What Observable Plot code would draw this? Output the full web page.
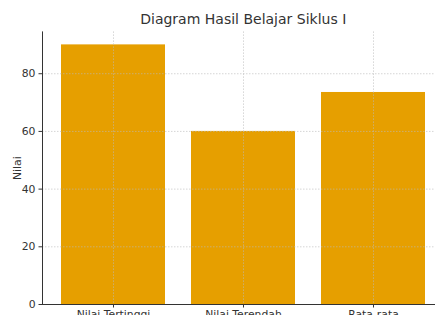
<!DOCTYPE html>
<html>
<head>
<meta charset="utf-8">
<script src="https://cdn.jsdelivr.net/npm/d3@7"></script>
<script src="https://cdn.jsdelivr.net/npm/@observablehq/plot@0.6"></script>
<style>
  html, body { margin: 0; padding: 0; background: #fff; overflow: hidden; }
</style>
</head>
<body>
<div id="chart"></div>
<script>
const title = "Diagram Hasil Belajar Siklus I";
const categories = ["Nilai Tertinggi", "Nilai Terendah", "Rata-rata"];
const values = [90, 60, 73.5];
const yTicks = [0, 20, 40, 60, 80];
const yLabel = "Nilai";

const data = categories.map((c, i) => ({category: c, value: values[i]}));

const chart = Plot.plot({
  width: 435,
  height: 330,
  marginLeft: 42,
  marginRight: -8.5,
  marginTop: 31.4,
  marginBottom: 26,
  style: {fontFamily: "DejaVu Sans", fontSize: "10.5px", color: "#333", background: "#fff"},
  x: {domain: categories, paddingInner: 0.2, paddingOuter: 0.138, align: 0.5, label: null},
  y: {domain: [0, 94.5], label: yLabel},
  marks: [
    Plot.barY(data, {x: "category", y: "value", fill: "#E69F00"}),
    Plot.gridX({stroke: "#bbb", strokeOpacity: 0.6, strokeDasharray: "1.5,1.5"}),
    Plot.gridY(yTicks.slice(1), {stroke: "#bbb", strokeOpacity: 0.6, strokeDasharray: "1.5,1.5"}),
    Plot.axisY(yTicks, {tickSize: 3.5, tickPadding: 3.5, fontSize: 10.8, label: yLabel, labelAnchor: "center", labelArrow: "none", labelOffset: 29, stroke: "#333", fill: "#333"}),
    Plot.axisX({tickSize: 3.5, tickPadding: 2.5, fontSize: 10.8, label: null, stroke: "#333", fill: "#333"}),
    Plot.frame({anchor: "left", stroke: "#333"}),
    Plot.frame({anchor: "bottom", stroke: "#333"}),
    Plot.text([title], {frameAnchor: "top", dy: -7.5, lineAnchor: "bottom", fontSize: 14, fill: "#333"})
  ]
});
document.getElementById("chart").append(chart);
</script>
</body>
</html>
